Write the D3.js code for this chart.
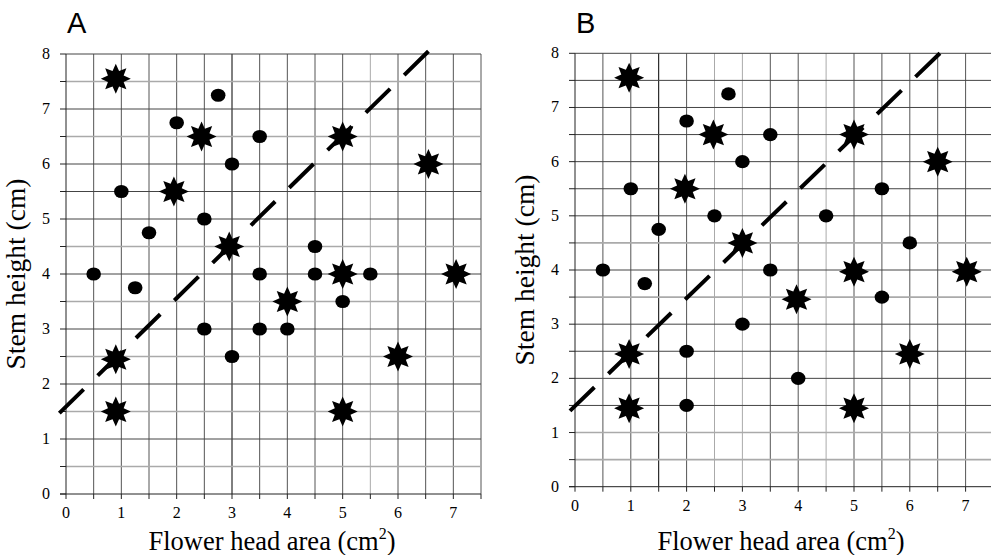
<!DOCTYPE html>
<html>
<head>
<meta charset="utf-8">
<script src="https://cdn.jsdelivr.net/npm/d3@7"></script>
<style>
  body { margin:0; background:#fff; }
  svg { display:block; }
</style>
</head>
<body>
<svg class="chart"></svg>
<script>
// tick values and labels
var xTicks = [0, 1, 2, 3, 4, 5, 6, 7];
var yTicks = [0, 1, 2, 3, 4, 5, 6, 7, 8];
var gridX = d3.range(0, 7.51, 0.5);
var gridY = d3.range(0, 8.01, 0.5);

// panel A
var starsA = [[0.9,7.55],[2.45,6.5],[1.95,5.5],[5,6.5],[6.55,6],[2.95,4.5],[5,4],[7.05,4],[4,3.5],[0.9,2.45],[0.9,1.5],[6,2.5],[5,1.5]];
var dotsA = [[2.75,7.25],[2,6.75],[3.5,6.5],[3,6],[1,5.5],[2.5,5],[1.5,4.75],[4.5,4.5],[0.5,4],[3.5,4],[4.5,4],[5.5,4],[1.25,3.75],[5,3.5],[2.5,3],[3.5,3],[4,3],[3,2.5]];
var lineA = [[-0.12,1.47],[6.55,8.05]];

// panel B
var starsB = [[0.97,7.55],[2.48,6.5],[1.97,5.5],[5,6.5],[6.5,6],[3,4.5],[5,3.97],[7.02,3.97],[3.97,3.46],[0.97,2.45],[0.97,1.45],[6,2.45],[5,1.45]];
var dotsB = [[2.75,7.25],[2,6.75],[3.5,6.5],[3,6],[1,5.5],[2.5,5],[1.5,4.75],[4.5,5],[5.5,5.5],[6,4.5],[0.5,4],[3.5,4],[1.25,3.75],[5.5,3.5],[3,3],[2,2.5],[4,2],[2,1.5]];
var lineB = [[-0.09,1.4],[6.54,8.0]];

var svg = d3.select(".chart").attr("width", 991).attr("height", 555);

function starPath(ro, ri){
  var pts = [];
  for (var i = 0; i < 16; i++){
    var a = i * Math.PI / 8 - Math.PI / 2;
    var r = i % 2 ? ri : ro;
    pts.push([Math.cos(a)*r, Math.sin(a)*r]);
  }
  return "M" + pts.join("L") + "Z";
}

function panel(opt){
  var g = svg.append("g");
  var x = d3.scaleLinear().domain([0, 7.5]).range([opt.left, opt.right]);
  var y = d3.scaleLinear().domain([0, 8]).range([opt.bottom, opt.top]);

  // grid
  g.selectAll(".gx").data(gridX.filter(function(d){ return d > 0; })).enter().append("line")
    .attr("x1", function(d){ return x(d); }).attr("x2", function(d){ return x(d); })
    .attr("y1", y(8)).attr("y2", y(0))
    .attr("stroke", function(d){ return d === opt.darkX ? "#000" : (opt.lightX.indexOf(d) >= 0 ? "#aaa" : "#555"); })
    .attr("stroke-width", 1);
  g.selectAll(".gy").data(gridY.filter(function(d){ return d > 0; })).enter().append("line")
    .attr("x1", x(0)).attr("x2", x(7.5))
    .attr("y1", function(d){ return y(d); }).attr("y2", function(d){ return y(d); })
    .attr("stroke", function(d){ return opt.lightY.indexOf(d) >= 0 ? "#aaa" : "#444"; })
    .attr("stroke-width", function(d){ return opt.lightY.indexOf(d) >= 0 ? 1.6 : 1; });

  // axes
  g.append("line").attr("x1", x(0)).attr("x2", x(0)).attr("y1", y(8)).attr("y2", y(0)).attr("stroke", "#222");
  g.append("line").attr("x1", x(0) - 6).attr("x2", x(7.5)).attr("y1", y(0)).attr("y2", y(0)).attr("stroke", "#222");
  g.selectAll(".ty").data(gridY).enter().append("line")
    .attr("x1", x(0) - 6).attr("x2", x(0))
    .attr("y1", function(d){ return y(d); }).attr("y2", function(d){ return y(d); })
    .attr("stroke", "#222");
  g.selectAll(".tx").data(gridX).enter().append("line")
    .attr("x1", function(d){ return x(d); }).attr("x2", function(d){ return x(d); })
    .attr("y1", y(0)).attr("y2", y(0) + 5)
    .attr("stroke", "#222");

  g.selectAll(".ly").data(yTicks).enter().append("text")
    .attr("x", x(0) - 16).attr("y", function(d){ return y(d) + 5; })
    .attr("text-anchor", "end")
    .attr("font-family", "Liberation Serif, Times New Roman, serif").attr("font-size", 16)
    .text(function(d){ return d; });
  g.selectAll(".lx").data(xTicks).enter().append("text")
    .attr("x", function(d){ return x(d); }).attr("y", y(0) + 24)
    .attr("text-anchor", "middle")
    .attr("font-family", "Liberation Serif, Times New Roman, serif").attr("font-size", 16)
    .text(function(d){ return d; });

  // titles
  var xt = g.append("text")
    .attr("x", x(0) + 206).attr("y", 550)
    .attr("text-anchor", "middle")
    .attr("font-family", "Liberation Serif, Times New Roman, serif").attr("font-size", 26.5);
  xt.append("tspan").text("Flower head area (cm");
  xt.append("tspan").attr("font-size", 16).attr("dy", -11).text("2");
  xt.append("tspan").attr("dy", 11).text(")");

  g.append("text")
    .attr("transform", "translate(" + (x(0) - 41) + "," + ((y(0) + y(8)) / 2) + ") rotate(-90)")
    .attr("text-anchor", "middle")
    .attr("font-family", "Liberation Serif, Times New Roman, serif").attr("font-size", 27.5)
    .text("Stem height (cm)");

  g.append("text")
    .attr("x", x(0) + 1).attr("y", 33)
    .attr("font-family", "Liberation Sans, Arial, sans-serif").attr("font-size", 29)
    .text(opt.label);

  // fit line: 10 dashes, ends on a dash
  var x1 = x(opt.line[0][0]), y1 = y(opt.line[0][1]);
  var x2 = x(opt.line[1][0]), y2 = y(opt.line[1][1]);
  var len = Math.sqrt((x2 - x1) * (x2 - x1) + (y2 - y1) * (y2 - y1));
  var dash = 34, gap = (len - 10 * dash) / 9;
  g.append("line")
    .attr("x1", x1).attr("y1", y1).attr("x2", x2).attr("y2", y2)
    .attr("stroke", "#000").attr("stroke-width", 4)
    .attr("stroke-dasharray", dash + "," + gap);

  // points
  g.selectAll(".dot").data(opt.dots).enter().append("ellipse")
    .attr("cx", function(d){ return x(d[0]); }).attr("cy", function(d){ return y(d[1]); })
    .attr("rx", 7.3).attr("ry", 6.6).attr("fill", "#000");
  g.selectAll(".star").data(opt.stars).enter().append("path")
    .attr("transform", function(d){ return "translate(" + x(d[0]) + "," + y(d[1]) + ")"; })
    .attr("d", starPath(15, 8.5))
    .attr("fill", "#000");
}

panel({label:"A", left:66, right:481, top:54, bottom:494, stars:starsA, dots:dotsA, line:lineA,
       darkX:3, lightX:[5.5], lightY:[0.5,1.5,2.5,3.5,4.5,6.5,7.5]});
panel({label:"B", left:575, right:993.5, top:53.3, bottom:486.7, stars:starsB, dots:dotsB, line:lineB,
       darkX:1.5, lightX:[2.5,3,4.5], lightY:[0.5,1,3.5,4.5]});
</script>
</body>
</html>
